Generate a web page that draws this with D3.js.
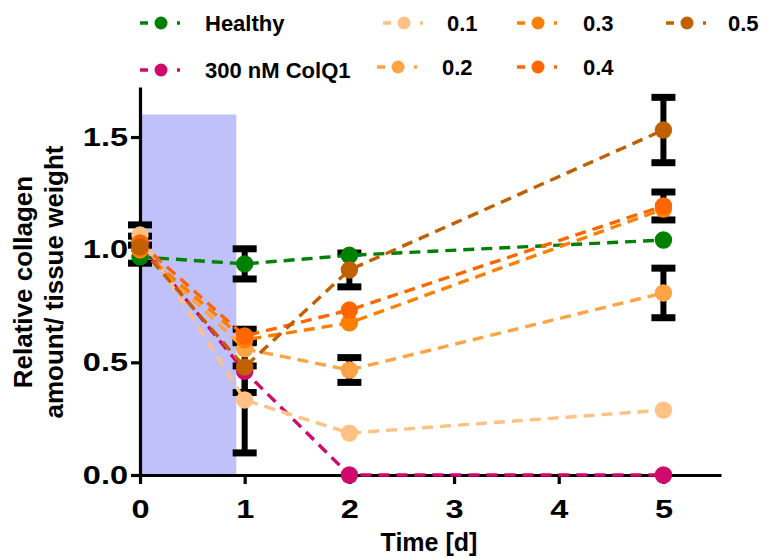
<!DOCTYPE html>
<html>
<head>
<meta charset="utf-8">
<script src="https://cdn.jsdelivr.net/npm/d3@7"></script>
<style>
  html, body { margin: 0; padding: 0; background: #fff; }
  svg { display: block; font-family: "Liberation Sans", Arial, sans-serif; font-weight: bold; }
</style>
</head>
<body>
<svg id="chart" width="761" height="558"></svg>
<script>
// Sampling days
const days = [0, 1, 2, 5];

// Series labels and colours
const seriesNames = ["Healthy", "300 nM ColQ1", "0.1", "0.2", "0.3", "0.4", "0.5"];
const seriesColors = ["#008000", "#cf0a6c", "#ffc184", "#ffa345", "#ff8000", "#ff6600", "#c06000"];

// Mean relative collagen amount / tissue weight per day
const healthy = [0.968, 0.937, 0.975, 1.043];
const colq1   = [1.03, 0.46, 0.0, 0.0];
const dose01  = [1.065, 0.333, 0.186, 0.288];
const dose02  = [1.0, 0.56, 0.466, 0.808];
const dose03  = [1.0, 0.60, 0.675, 1.18];
const dose04  = [1.03, 0.617, 0.732, 1.194];
const dose05  = [1.012, 0.479, 0.91, 1.531];

// Error bar half-lengths (upper, lower) per day
const healthyErrUp = [0, 0.067, 0, 0],         healthyErrDn = [0, 0.067, 0, 0];
const colq1ErrUp   = [0, 0, 0, 0],             colq1ErrDn   = [0, 0, 0, 0];
const dose01ErrUp  = [0.045, 0.151, 0, 0],     dose01ErrDn  = [0.045, 0.235, 0, 0];
const dose02ErrUp  = [0, 0, 0.055, 0.11],      dose02ErrDn  = [0, 0, 0.055, 0.11];
const dose03ErrUp  = [0.06, 0, 0, 0],          dose03ErrDn  = [0.06, 0, 0, 0];
const dose04ErrUp  = [0, 0.03, 0, 0.062],      dose04ErrDn  = [0, 0.03, 0, 0.062];
const dose05ErrUp  = [0, 0.113, 0.075, 0.145], dose05ErrDn  = [0, 0.113, 0.075, 0.145];

// Treatment window
const treatmentStart = 0, treatmentEnd = 0.92, treatmentLevel = 1.6;

// Axis ticks
const xTicks = [0, 1, 2, 3, 4, 5];
const yTicks = [0, 0.5, 1.0, 1.5];

const means = [healthy, colq1, dose01, dose02, dose03, dose04, dose05];
const errUp = [healthyErrUp, colq1ErrUp, dose01ErrUp, dose02ErrUp, dose03ErrUp, dose04ErrUp, dose05ErrUp];
const errDn = [healthyErrDn, colq1ErrDn, dose01ErrDn, dose02ErrDn, dose03ErrDn, dose04ErrDn, dose05ErrDn];

const series = seriesNames.map((name, i) => ({
  name, color: seriesColors[i],
  points: days.map((d, j) => ({ x: d, y: means[i][j], up: errUp[i][j], dn: errDn[i][j] }))
}));

const svg = d3.select("#chart");
const x = d3.scaleLinear().domain([0, 5.55]).range([140, 721]);
const y = d3.scaleLinear().domain([0, 1.722]).range([475, 87]);

// Treatment shading
svg.append("rect")
  .attr("x", x(treatmentStart)).attr("y", y(treatmentLevel))
  .attr("width", x(treatmentEnd) - x(treatmentStart))
  .attr("height", y(0) - y(treatmentLevel))
  .attr("fill", "#c0c0fa");

// Error bars
const capHalf = 12;
const eb = svg.append("g").attr("stroke", "#000");
series.forEach(s => {
  s.points.filter(p => p.up > 0 || p.dn > 0).forEach(p => {
    const g = eb.append("g");
    g.append("line").attr("x1", x(p.x)).attr("x2", x(p.x))
      .attr("y1", y(p.y + p.up)).attr("y2", y(p.y - p.dn)).attr("stroke-width", 6);
    [p.y + p.up, p.y - p.dn].forEach(v => {
      g.append("line").attr("x1", x(p.x) - capHalf).attr("x2", x(p.x) + capHalf)
        .attr("y1", y(v)).attr("y2", y(v)).attr("stroke-width", 7);
    });
  });
});

// Axes
const tickStretch = 1.3;
const axisX = svg.append("g").attr("transform", `translate(0,${y(0)})`)
  .call(d3.axisBottom(x).tickValues(xTicks).tickFormat(d3.format("d")).tickSize(9).tickSizeOuter(0).tickPadding(16));
const axisY = svg.append("g").attr("transform", `translate(${x(0)},0)`)
  .call(d3.axisLeft(y).tickValues(yTicks).tickFormat(d3.format(".1f")).tickSize(9).tickSizeOuter(0).tickPadding(3));
[axisX, axisY].forEach(a => {
  a.select(".domain").attr("stroke", "#000").attr("stroke-width", 3.2);
  a.selectAll(".tick line").attr("stroke", "#000").attr("stroke-width", 3.2);
  a.selectAll(".tick text").attr("fill", "#000").style("font-size", "25px").style("font-weight", "bold")
    .style("font-family", "'Liberation Sans', Arial, sans-serif")
    .attr("transform", `scale(${tickStretch},1)`);
});
axisY.selectAll(".tick text").attr("x", -12 / tickStretch);

// Lines
const line = d3.line().x(p => x(p.x)).y(p => y(p.y));
series.forEach(s => {
  svg.append("path").datum(s.points).attr("d", line)
    .attr("fill", "none").attr("stroke", s.color).attr("stroke-width", 3.4)
    .attr("stroke-dasharray", "11,7");
});

// Points
series.forEach(s => {
  svg.append("g").selectAll("circle").data(s.points).join("circle")
    .attr("cx", p => x(p.x)).attr("cy", p => y(p.y)).attr("r", 8.7).attr("fill", s.color);
});

// Axis titles
svg.append("text").attr("x", 429).attr("y", 551)
  .attr("text-anchor", "middle").style("font-size", "25px").text("Time [d]");
const yt = svg.append("text").attr("transform", `translate(0,282) rotate(-90)`)
  .attr("text-anchor", "middle").style("font-size", "26px");
yt.append("tspan").attr("x", 0).attr("y", 32).text("Relative collagen");
yt.append("tspan").attr("x", 0).attr("y", 63).text("amount/ tissue weight");

// Legend
const legendItems = [
  { i: 0, cx: 161, cy: 23, tx: 205 },
  { i: 1, cx: 161, cy: 70, tx: 205 },
  { i: 2, cx: 404, cy: 23, tx: 447 },
  { i: 3, cx: 398, cy: 67, tx: 442 },
  { i: 4, cx: 538, cy: 23, tx: 583 },
  { i: 5, cx: 538, cy: 67, tx: 583 },
  { i: 6, cx: 687, cy: 23, tx: 728 }
];
const lg = svg.append("g");
legendItems.forEach(it => {
  const s = series[it.i];
  const g = lg.append("g");
  g.append("line").attr("x1", it.cx - 21).attr("x2", it.cx + 19)
    .attr("y1", it.cy).attr("y2", it.cy)
    .attr("stroke", s.color).attr("stroke-width", 3.5).attr("stroke-dasharray", "8,10.5");
  g.append("circle").attr("cx", it.cx).attr("cy", it.cy).attr("r", 6.5).attr("fill", s.color);
  g.append("text").attr("x", it.tx).attr("y", it.cy).attr("dy", "0.36em")
    .style("font-size", "22px").text(s.name);
});
</script>
</body>
</html>
